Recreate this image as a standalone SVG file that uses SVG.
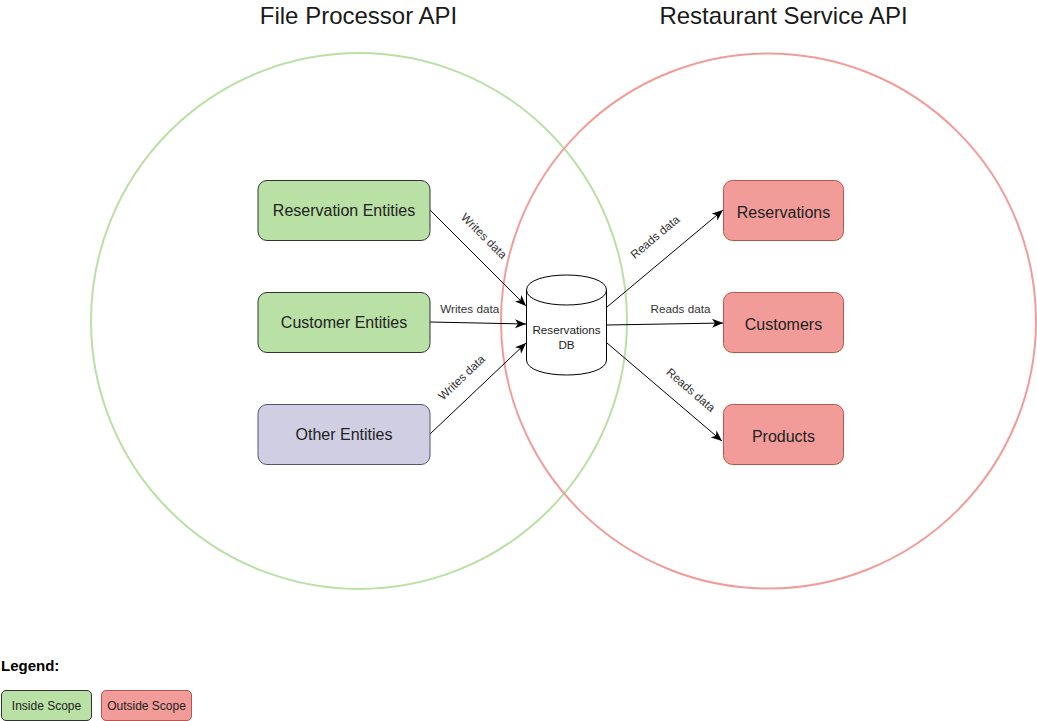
<svg xmlns="http://www.w3.org/2000/svg" width="1037" height="721" viewBox="0 0 1037 721">
<style>
text{font-family:"Liberation Sans",Arial,Helvetica,sans-serif}
.title{font-size:24px;fill:#1a1a1a;text-anchor:middle}
.node{font-size:16px;fill:#222;text-anchor:middle}
.lbl{font-size:11.7px;fill:#333;text-anchor:middle}
.db{font-size:11.7px;fill:#222;text-anchor:middle}
.green{fill:#B9E0A5;stroke:#333;stroke-width:1}
.purple{fill:#D0CEE2;stroke:#56517E;stroke-width:1}
.red{fill:#F19C99;stroke:#B85450;stroke-width:1}
.edge{fill:none;stroke:#000;stroke-width:1;marker-end:url(#arr)}
.leg{font-size:12px;fill:#222;text-anchor:middle}
</style>
<defs>
<marker id="arr" markerUnits="userSpaceOnUse" markerWidth="12" markerHeight="10" viewBox="0 0 12 10" refX="11" refY="5" orient="auto">
<path d="M0,0.5 L11,5 L0,9.5 L3,5 Z" fill="#000"/>
</marker>
</defs>
<rect width="1037" height="721" fill="#fff"/>
<g id="scope-file-processor">
<circle cx="359" cy="321" r="268" fill="none" stroke="#B9E0A5" stroke-width="2"/>
<text class="title" x="358.5" y="24">File Processor API</text>
</g>
<g id="scope-restaurant-service">
<circle cx="768.5" cy="321" r="267.5" fill="none" stroke="#F19C99" stroke-width="2"/>
<text class="title" x="783.5" y="24">Restaurant Service API</text>
</g>
<g id="connectors">
<path class="edge" d="M430,210 L526,306"/>
<path class="edge" d="M430,322 L526,324"/>
<path class="edge" d="M430,434 L526,343"/>
<path class="edge" d="M607,307 L723,210"/>
<path class="edge" d="M607,325 L723,323"/>
<path class="edge" d="M607,343 L722,441"/>
<text class="lbl" transform="translate(484,236) rotate(45)" y="4">Writes data</text>
<text class="lbl" x="469.7" y="313">Writes data</text>
<text class="lbl" transform="translate(461.7,377.5) rotate(-43.5)" y="4">Writes data</text>
<text class="lbl" transform="translate(655,237) rotate(-40)" y="4">Reads data</text>
<text class="lbl" x="680.5" y="313">Reads data</text>
<text class="lbl" transform="translate(690.8,390) rotate(40.6)" y="4">Reads data</text>
</g>
<g id="node-reservation-entities">
<rect class="green" x="258" y="180.5" width="172" height="60" rx="9"/>
<text class="node" x="344" y="216">Reservation Entities</text>
</g>
<g id="node-customer-entities">
<rect class="green" x="258" y="292.5" width="172" height="60" rx="9"/>
<text class="node" x="344" y="328">Customer Entities</text>
</g>
<g id="node-other-entities">
<rect class="purple" x="258" y="404.5" width="172" height="60" rx="9"/>
<text class="node" x="344" y="440">Other Entities</text>
</g>
<g id="node-reservations-db">
<path d="M526.5,290 C526.5,270 606.5,270 606.5,290 L606.5,360 C606.5,380 526.5,380 526.5,360 Z" fill="#fff" stroke="#000" stroke-width="1"/>
<path d="M526.5,290 C526.5,310 606.5,310 606.5,290" fill="none" stroke="#000" stroke-width="1"/>
<text class="db" x="566.5" y="334">Reservations</text>
<text class="db" x="566.5" y="349">DB</text>
</g>
<g id="node-reservations">
<rect class="red" x="723.5" y="180.5" width="120" height="60" rx="9"/>
<text class="node" x="783.5" y="218">Reservations</text>
</g>
<g id="node-customers">
<rect class="red" x="723.5" y="292.5" width="120" height="60" rx="9"/>
<text class="node" x="783.5" y="330">Customers</text>
</g>
<g id="node-products">
<rect class="red" x="723.5" y="404.5" width="120" height="60" rx="9"/>
<text class="node" x="783.5" y="442">Products</text>
</g>
<g id="legend">
<text x="1" y="671" font-size="15" font-weight="bold" fill="#000">Legend:</text>
<g id="legend-inside">
<rect class="green" x="1.5" y="690.5" width="90" height="30" rx="4.5"/>
<text class="leg" x="46.5" y="710">Inside Scope</text>
</g>
<g id="legend-outside">
<rect class="red" x="101.5" y="690.5" width="90" height="30" rx="4.5"/>
<text class="leg" x="146.5" y="710">Outside Scope</text>
</g>
</g>
</svg>
